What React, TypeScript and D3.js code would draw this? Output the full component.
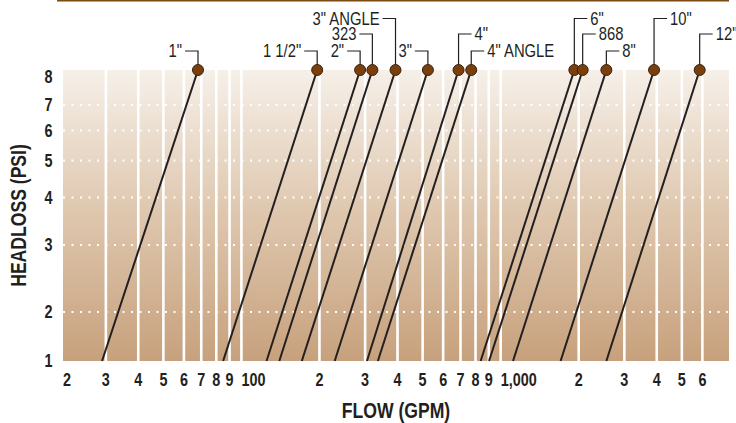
import React from 'react';
import * as d3 from 'd3';

const W = 736;
const H = 423;
const margin = { top: 70, right: 7, bottom: 62, left: 63 };

const valveNames = ['1"', '1 1/2"', '2"', '323', '3" ANGLE', '3"', '4"', '4" ANGLE', '6"', '868', '8"', '10"', '12"'];
const flowAt1Psi = [29, 85, 125, 140, 171, 229, 305, 336, 837, 902, 1116, 1703, 2557];
const flowAt8Psi = [68, 196, 287, 320, 393, 524, 688, 770, 1924, 2072, 2557, 3906, 5858];

const flowTicks = [20, 30, 40, 50, 60, 70, 80, 90, 100, 200, 300, 400, 500, 600, 700, 800, 900, 1000, 2000, 3000, 4000, 5000, 6000];
const flowTickLabels = ['2', '3', '4', '5', '6', '7', '8', '9', '100', '2', '3', '4', '5', '6', '7', '8', '9', '1,000', '2', '3', '4', '5', '6'];
const headlossTicks = [1, 2, 3, 4, 5, 6, 7, 8];

// callout placement: which row above the plot, and which side of the leader the text sits
const calloutRow = [0, 0, 0, 1, 2, 0, 1, 0, 2, 1, 0, 2, 1];
const calloutSide = ['left', 'left', 'left', 'left', 'left', 'left', 'right', 'right', 'right', 'right', 'right', 'right', 'right'];
const ROW_Y = [51, 34, 18.5];

const FONT = '"Liberation Sans", Arial, Helvetica, sans-serif';
const INK = '#231f20';
const SQUEEZE = 0.8; // fake a condensed face

type TProps = {
  x: number;
  y: number;
  size: number;
  bold?: boolean;
  anchor?: string;
  dy?: string;
  rotate?: number;
  children: React.ReactNode;
};

function NText({ x, y, size, bold, anchor = 'start', dy, rotate = 0, children }: TProps) {
  return (
    <text transform={`translate(${x},${y}) rotate(${rotate}) scale(${SQUEEZE},1)`} textAnchor={anchor} dy={dy}
      fontSize={size} fontWeight={bold ? 'bold' : 'normal'} fill={INK}>{children}</text>
  );
}

export default function App() {
  const x0 = margin.left;
  const x1 = W - margin.right;
  const y0 = H - margin.bottom;
  const y1 = margin.top;

  const x = d3.scaleLog().domain([20.5, 7600]).range([x0, x1]);
  // the printed axis squeezes the 1-2 and 7-8 spans
  const y = d3.scaleLog().domain([1, 2, 7, 8]).range([y0, 312, 105, y1]);

  const valves = valveNames.map((name, i) => ({
    name,
    q1: flowAt1Psi[i],
    q8: flowAt8Psi[i],
    row: calloutRow[i],
    side: calloutSide[i],
  }));

  return (
    <svg width={W} height={H} style={{ position: 'absolute', left: 0, top: 0 }} fontFamily={FONT}>
      <defs>
        <linearGradient id="bg" x1="0" y1="0" x2="0" y2="1">
          <stop offset="0" stopColor="#f6f0e9" />
          <stop offset="0.5" stopColor="#dec6ad" />
          <stop offset="1" stopColor="#c7a17d" />
        </linearGradient>
      </defs>

      <line x1={x0 - 6} x2={x1} y1={0.75} y2={0.75} stroke="#7b4a12" strokeWidth={1.5} />

      <rect x={x0} y={y1} width={x1 - x0} height={y0 - y1} fill="url(#bg)" />

      {flowTicks.slice(1).map(v => (
        <line key={'g' + v} x1={x(v)} x2={x(v)} y1={y1} y2={y0} stroke="#fff" strokeWidth={2.6} />
      ))}

      {headlossTicks.slice(1, -1).map(v => (
        <line key={'h' + v} x1={x0} x2={x1} y1={y(v)} y2={y(v)} stroke="#fff" strokeWidth={2}
          strokeDasharray="2 6.5" />
      ))}

      {valves.map(d => (
        <line key={'l' + d.name} x1={x(d.q1)} y1={y(1)} x2={x(d.q8)} y2={y(8)} stroke={INK} strokeWidth={2} />
      ))}

      {valves.map(d => {
        const cx = x(d.q8);
        const ly = ROW_Y[d.row];
        const dir = d.side === 'left' ? -1 : 1;
        const hx = cx + dir * 13;
        return (
          <g key={'c' + d.name}>
            <polyline points={`${cx},${y(8)} ${cx},${ly} ${hx},${ly}`} fill="none" stroke={INK} strokeWidth={1.2} />
            <NText x={hx + dir * 3} y={ly} dy="0.35em" size={18.5}
              anchor={d.side === 'left' ? 'end' : 'start'}>{d.name}</NText>
          </g>
        );
      })}

      {valves.map(d => (
        <circle key={'d' + d.name} cx={x(d.q8)} cy={y(8)} r={5.5} fill="#7b3f0b" stroke="#3b2311" strokeWidth={1} />
      ))}

      {headlossTicks.map((v, i) => (
        <NText key={'yt' + v} x={48.5} y={y(v)} dy={i === headlossTicks.length - 1 ? '0.7em' : '0.36em'}
          anchor="middle" size={18} bold>{v}</NText>
      ))}

      {flowTicks.map((v, i) => {
        const wide = i === 0 || flowTickLabels[i].length > 1;
        return (
          <NText key={'xt' + v} x={Math.max(x(v), x0)} y={386} size={18} bold
            anchor={wide ? 'start' : 'middle'}>{flowTickLabels[i]}</NText>
        );
      })}

      <NText x={(x0 + x1) / 2} y={418} anchor="middle" size={22} bold>FLOW (GPM)</NText>
      <NText x={26} y={(y0 + y1) / 2} rotate={-90} anchor="middle" size={22} bold>HEADLOSS (PSI)</NText>
    </svg>
  );
}
